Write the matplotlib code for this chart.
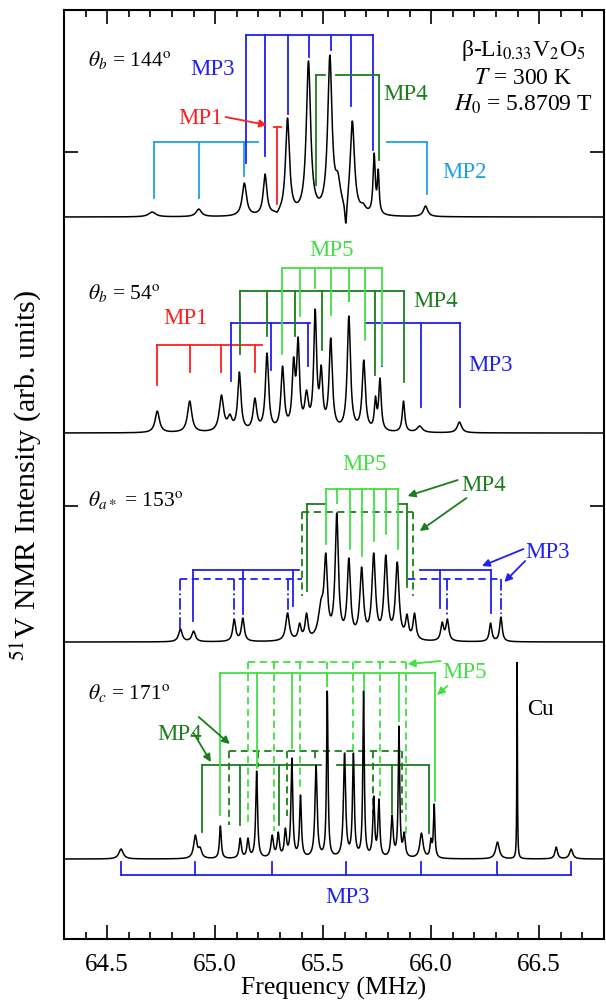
import numpy as np
import matplotlib.pyplot as plt
from matplotlib.ticker import MultipleLocator, FormatStrFormatter

plt.rcParams['font.family'] = ['Liberation Serif', 'DejaVu Serif']
plt.rcParams['mathtext.fontset'] = 'stix'

# peak tables: centre (MHz), height of the trace at the centre (arb.), half width (MHz)
f144 = [64.708, 64.924, 65.135, 65.231, 65.287, 65.335, 65.432, 65.471, 65.531,
        65.568, 65.605, 65.635, 65.685, 65.736, 65.755, 65.974]
h144 = [5, 8, 34, 43, 5, 99, 156, 21, 162, 45, -6, 96, 14, 64, 48, 11]
w144 = [0.02, 0.015, 0.012, 0.01, 0.008, 0.011, 0.012, 0.006, 0.012, 0.015, 0.006,
        0.012, 0.015, 0.006, 0.005, 0.012]

f54 = [64.732, 64.882, 65.029, 65.068, 65.112, 65.184, 65.240, 65.312, 65.363, 65.384,
       65.423, 65.463, 65.491, 65.535, 65.619, 65.688, 65.742, 65.763, 65.872, 65.947, 66.131]
h54 = [22, 32, 38, 19, 61, 35, 80, 67, 76, 96, 43, 124, 68, 95, 117, 73, 37, 55, 32, 7, 11]
w54 = [0.012, 0.012, 0.012, 0.012, 0.009, 0.01, 0.009, 0.009, 0.008, 0.008, 0.01, 0.008,
       0.008, 0.009, 0.009, 0.009, 0.006, 0.007, 0.007, 0.015, 0.012]

f153 = [64.839, 64.900, 65.088, 65.128, 65.335, 65.391, 65.423, 65.490, 65.512, 65.563,
        65.619, 65.678, 65.734, 65.790, 65.843, 65.888, 65.923, 66.051, 66.075, 66.275, 66.323]
h153 = [13, 11, 23, 24, 29, 19, 29, 43, 89, 129, 84, 75, 89, 87, 80, 28, 29, 20, 23, 19, 25]
w153 = [0.01, 0.01, 0.008, 0.008, 0.01, 0.008, 0.008, 0.015, 0.009, 0.009, 0.009,
        0.01, 0.01, 0.01, 0.01, 0.008, 0.008, 0.008, 0.008, 0.007, 0.007]

f171 = [64.564, 64.908, 64.930, 65.024, 65.116, 65.152, 65.192, 65.264, 65.292, 65.325,
        65.355, 65.395, 65.467, 65.519, 65.599, 65.640, 65.687, 65.734, 65.758, 65.819,
        65.851, 65.875, 65.955, 65.999, 66.014, 66.307, 66.398, 66.579, 66.648]
h171 = [10, 24, 12, 33, 21, 21, 88, 24, 27, 31, 101, 64, 94, 168, 106, 106, 168, 63, 60,
        44, 133, 27, 26, 21, 55, 17, 198, 12, 10]
w171 = [0.012, 0.009, 0.009, 0.005, 0.006, 0.006, 0.005, 0.007, 0.006, 0.006, 0.005,
        0.005, 0.006, 0.004, 0.006, 0.005, 0.004, 0.005, 0.005, 0.006, 0.004, 0.006,
        0.009, 0.005, 0.004, 0.01, 0.0015, 0.007, 0.009]

# satellite combs (MHz)
mp3_144 = [65.143, 65.232, 65.335, 65.435, 65.535, 65.630, 65.731]
mp4_144 = [65.467, 65.758]
mp1_144 = [65.287]
mp2_144 = [64.719, 64.927, 65.132, 65.982]

mp5_54 = [65.309, 65.391, 65.464, 65.536, 65.619, 65.694, 65.771]
mp4_54 = [65.116, 65.240, 65.371, 65.495, 65.619, 65.742, 65.872]
mp3_54 = [65.071, 65.260, 65.431, 65.774, 65.955, 66.134]
mp1_54 = [64.732, 64.882, 65.029, 65.183]

mp5_153 = [65.512, 65.566, 65.622, 65.678, 65.734, 65.790, 65.846]
mp4a_153 = [65.427, 65.888]
mp4b_153 = [65.403, 65.918]
mp3a_153 = [64.897, 65.128, 65.359, 66.043, 66.275]
mp3b_153 = [64.839, 65.087, 65.335, 66.072, 66.323]

mp5a_171 = [65.024, 65.192, 65.355, 65.519, 65.687, 65.851, 66.019]
mp5b_171 = [65.152, 65.272, 65.395, 65.519, 65.640, 65.763, 65.883]
mp4a_171 = [64.940, 65.116, 65.295, 65.467, 65.643, 65.819, 65.990]
mp4b_171 = [65.063, 65.197, 65.331, 65.464, 65.598, 65.733, 65.867]
mp3_171 = [64.564, 64.908, 65.263, 65.606, 65.955, 66.307, 66.648]

RED = '#ff1f1f'
SKY = '#1ea0e6'
BLUE = '#2020f0'
DKG = '#1b7d1b'
LTG = '#42e042'
DASH = (0, (4, 2.5))

x = np.linspace(64.3, 66.8, 8001)


def lor(xx, f, w):
    return w**2 / ((xx - f)**2 + w**2)


def spectrum(fs, hs, ws):
    # lorentzian amplitudes chosen so the summed trace hits each listed height
    fs, hs, ws = np.asarray(fs), np.asarray(hs, float), np.asarray(ws)
    A = lor(fs[:, None], fs[None, :], ws[None, :])
    amp = np.linalg.solve(A, hs)
    return (amp[None, :] * lor(x[:, None], fs[None, :], ws[None, :])).sum(1)


def comb(ax, base, xs, top, bottoms, color, ls='-', vls=None, bar=None):
    segs = bar if bar is not None else [(xs[0], xs[-1])]
    for a, b in segs:
        ax.plot([a, b], [base + top] * 2, color=color, ls=ls, lw=1.3, zorder=2)
    for xv, bt in zip(xs, bottoms):
        ax.plot([xv, xv], [base + top, base + bt], color=color,
                ls=vls if vls else ls, lw=1.3, zorder=2)


def arrow(ax, base, xy, xytext, color):
    ax.annotate('', xy=(xy[0], base + xy[1]), xytext=(xytext[0], base + xytext[1]),
                arrowprops=dict(arrowstyle='-|>', color=color, lw=1.3,
                                mutation_scale=11, shrinkA=0, shrinkB=0))


fig = plt.figure(figsize=(6.06, 10.04), dpi=100)
ax = fig.add_axes([0.1056, 0.0637, 0.891, 0.9253])

b1, b2, b3, b4 = 722, 506, 297, 80
fs = 16.5

# theta_b = 144
comb(ax, b1, mp2_144, 75, [19, 19, 41], SKY, bar=[(64.719, 65.196)])
comb(ax, b1, mp2_144[3:], 75, [23], SKY, bar=[(65.795, 65.982)])
comb(ax, b1, mp3_144, 182, [54, 61, 103, 160, 167, 111, 67], BLUE)
comb(ax, b1, mp4_144, 142, [32, 57], DKG, bar=[(65.467, 65.507), (65.558, 65.758)])
comb(ax, b1, mp1_144, 90, [13], RED, bar=[(65.271, 65.303)])
ax.text(64.988, b1 + 149, 'MP3', color=BLUE, fontsize=fs, ha='center', va='center')
ax.text(65.883, b1 + 124, 'MP4', color=DKG, fontsize=fs, ha='center', va='center')
ax.text(66.155, b1 + 46, 'MP2', color=SKY, fontsize=fs, ha='center', va='center')
ax.text(64.932, b1 + 100, 'MP1', color=RED, fontsize=fs, ha='center', va='center')
arrow(ax, b1, (65.24, 92), (65.048, 100), RED)
ax.plot(x, b1 + spectrum(f144, h144, w144), color='k', lw=1.1, zorder=3)

# theta_b = 54
comb(ax, b2, mp1_54, 88, [48, 61, 61, 61], RED, bar=[(64.732, 65.215)])
comb(ax, b2, mp3_54[:3], 110, [52, 63, 67], BLUE, bar=[(65.071, 65.439)])
comb(ax, b2, mp3_54[3:], 110, [67, 26, 26], BLUE, bar=[(65.694, 66.134)])
comb(ax, b2, mp4_54, 142, [79, 97, 97, 83, 132, 58, 51], DKG)
comb(ax, b2, mp5_54, 165, [79, 117, 145, 118, 132, 93, 68], LTG)
ax.text(65.539, b2 + 184, 'MP5', color=LTG, fontsize=fs, ha='center', va='center')
ax.text(66.019, b2 + 133, 'MP4', color=DKG, fontsize=fs, ha='center', va='center')
ax.text(66.275, b2 + 69, 'MP3', color=BLUE, fontsize=fs, ha='center', va='center')
ax.text(64.863, b2 + 116, 'MP1', color=RED, fontsize=fs, ha='center', va='center')
ax.plot(x, b2 + spectrum(f54, h54, w54), color='k', lw=1.1, zorder=3)

# theta_a* = 153
comb(ax, b3, mp3b_153, 63, [13, 26, 29], BLUE, ls=DASH, vls='-.',
     bar=[(64.839, 65.403)])
comb(ax, b3, mp3b_153[3:], 63, [26, 28], BLUE, ls=DASH, vls='-.',
     bar=[(65.891, 66.323)])
comb(ax, b3, mp3a_153[:3], 72, [21, 28, 36], BLUE, bar=[(64.897, 65.387)])
comb(ax, b3, mp3a_153[3:], 72, [34, 29], BLUE, bar=[(65.950, 66.275)])
comb(ax, b3, mp4b_153, 130, [46, 46], DKG, ls=DASH)
comb(ax, b3, mp4a_153, 138, [51, 55], DKG, bar=[(65.427, 65.512), (65.846, 65.888)])
comb(ax, b3, mp5_153, 153, [98, 139, 93, 86, 101, 108, 93], LTG)
ax.text(65.691, b3 + 179, 'MP5', color=LTG, fontsize=fs, ha='center', va='center')
ax.text(66.243, b3 + 158, 'MP4', color=DKG, fontsize=fs, ha='center', va='center')
arrow(ax, b3, (65.891, 146), (66.123, 162), DKG)
arrow(ax, b3, (65.947, 111), (66.163, 144), DKG)
ax.text(66.539, b3 + 91, 'MP3', color=BLUE, fontsize=fs, ha='center', va='center')
arrow(ax, b3, (66.235, 76), (66.427, 93), BLUE)
arrow(ax, b3, (66.339, 60), (66.435, 81), BLUE)
ax.plot(x, b3 + spectrum(f153, h153, w153), color='k', lw=1.1, zorder=3)

# theta_c = 171
comb(ax, b4, mp3_171, -16, [-3] * 7, BLUE)
comb(ax, b4, mp4a_171, 94, [27, 34, 34, 94, 94, 46, 26], DKG,
     bar=[(64.940, 65.491), (65.563, 65.990)])
comb(ax, b4, mp4b_171, 108, [34, 92, 43, 97, 108, 46, 46], DKG, ls=DASH)
comb(ax, b4, mp5a_171, 186, [44, 91, 111, 173, 169, 138, 58], LTG)
comb(ax, b4, mp5b_171, 197, [34, 28, 69, 173, 109, 63, 23], LTG, ls=DASH)
ax.text(66.155, b4 + 188, 'MP5', color=LTG, fontsize=fs, ha='center', va='center')
arrow(ax, b4, (65.891, 195), (66.043, 198), LTG)
arrow(ax, b4, (66.027, 164), (66.075, 173), LTG)
ax.text(64.836, b4 + 126, 'MP4', color=DKG, fontsize=fs, ha='center', va='center')
arrow(ax, b4, (65.068, 115), (64.924, 142), DKG)
arrow(ax, b4, (64.98, 97), (64.90, 126), DKG)
ax.text(65.611, b4 - 37, 'MP3', color=BLUE, fontsize=fs, ha='center', va='center')
ax.text(66.507, b4 + 151, 'Cu', color='k', fontsize=fs, ha='center', va='center')
ax.plot(x, b4 + spectrum(f171, h171, w171), color='k', lw=1.1, zorder=3)

# orientation labels and sample info
ax.text(64.41, 880, r'$\theta_b$ = 144$^{\rm o}$', fontsize=15.5, va='center')
ax.text(64.41, 647, r'$\theta_b$ = 54$^{\rm o}$', fontsize=15.5, va='center')
ax.text(64.41, 440, r'$\theta_{a*}$ = 153$^{\rm o}$', fontsize=15.5, va='center')
ax.text(64.41, 247, r'$\theta_c$ = 171$^{\rm o}$', fontsize=15.5, va='center')
ax.text(66.425, 890, r'β-Li$_{0.33}$V$_2$O$_5$', fontsize=17, ha='center', va='center')
ax.text(66.425, 862, r'$T$ = 300 K', fontsize=17, ha='center', va='center')
ax.text(66.425, 836, r'$H_0$ = 5.8709 T', fontsize=17, ha='center', va='center')

ax.set_xlim(64.3, 66.8)
ax.set_ylim(0, 929)
ax.xaxis.set_major_locator(MultipleLocator(0.5))
ax.xaxis.set_minor_locator(MultipleLocator(0.1))
ax.xaxis.set_major_formatter(FormatStrFormatter('%.1f'))
ax.set_yticks([433, 787])
ax.set_yticklabels([])
ax.tick_params(which='both', direction='in', top=True, right=True, width=1.2)
ax.tick_params(which='major', length=10, labelsize=18, pad=10)
ax.tick_params(which='minor', length=5)
for s in ax.spines.values():
    s.set_linewidth(1.5)
ax.set_xlabel('Frequency (MHz)', fontsize=18.5, labelpad=1)
ax.set_ylabel(r'$^{51}$V NMR Intensity (arb. units)', fontsize=21.5, labelpad=5)

fig.savefig('out.png', dpi=100)
